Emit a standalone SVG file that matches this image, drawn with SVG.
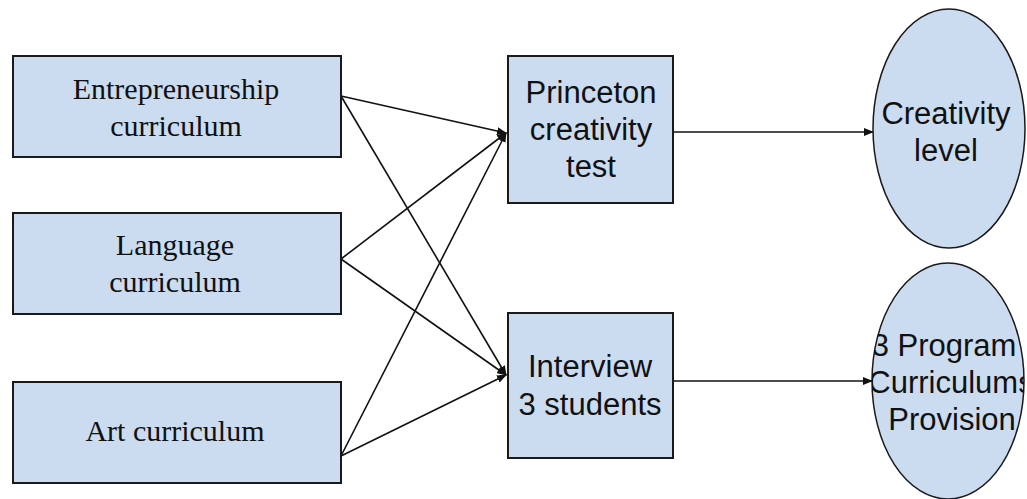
<svg xmlns="http://www.w3.org/2000/svg" width="1027" height="499" viewBox="0 0 1027 499">
<style>
.box{fill:#cbdcf1;stroke:#1a1a1a;stroke-width:2}
.ell{fill:#cbdcf1;stroke:#1a1a1a;stroke-width:1.5}
.serif{font-family:"Liberation Serif","Times New Roman",serif;font-size:30px;fill:#111;text-anchor:middle}
.sans{font-family:"Liberation Sans",Arial,sans-serif;font-size:31px;fill:#111;text-anchor:middle}
.edge{stroke:#111;stroke-width:1.6;fill:none;marker-end:url(#arr)}
</style>
<defs>
<marker id="arr" markerUnits="userSpaceOnUse" markerWidth="10" markerHeight="8" refX="9" refY="4" orient="auto">
<path d="M0,0 L10,4 L0,8 Z" fill="#111"/>
</marker>
<clipPath id="clipE2"><ellipse cx="948" cy="381" rx="76" ry="118"/></clipPath>
</defs>
<rect width="1027" height="499" fill="#fff"/>
<g id="connectors">
<line class="edge" x1="341" y1="96" x2="506" y2="133"/>
<line class="edge" x1="341" y1="96" x2="506" y2="375"/>
<line class="edge" x1="341" y1="259" x2="506" y2="133"/>
<line class="edge" x1="341" y1="259" x2="506" y2="375"/>
<line class="edge" x1="341" y1="456" x2="506" y2="133"/>
<line class="edge" x1="341" y1="456" x2="506" y2="375"/>
<line class="edge" x1="673" y1="132" x2="873" y2="132"/>
<line class="edge" x1="673" y1="381" x2="872" y2="381"/>
</g>
<g id="entrepreneurship">
<rect class="box" x="13" y="56" width="328" height="101"/>
<text class="serif" x="176" y="99">Entrepreneurship</text>
<text class="serif" x="176" y="136">curriculum</text>
</g>
<g id="language">
<rect class="box" x="13" y="213" width="328" height="101"/>
<text class="serif" x="175" y="255">Language</text>
<text class="serif" x="175" y="292">curriculum</text>
</g>
<g id="art">
<rect class="box" x="13" y="382" width="328" height="101"/>
<text class="serif" x="175" y="441">Art curriculum</text>
</g>
<g id="princeton">
<rect class="box" x="508" y="56" width="165" height="147"/>
<text class="sans" x="591" y="103">Princeton</text>
<text class="sans" x="591" y="140">creativity</text>
<text class="sans" x="591" y="177">test</text>
</g>
<g id="interview">
<rect class="box" x="508" y="313" width="165" height="145"/>
<text class="sans" x="590" y="377">Interview</text>
<text class="sans" x="590" y="415">3 students</text>
</g>
<g id="creativity-level">
<ellipse class="ell" cx="949" cy="128.5" rx="76" ry="119.5"/>
<text class="sans" x="946" y="124">Creativity</text>
<text class="sans" x="946" y="161">level</text>
</g>
<g id="provision">
<ellipse class="ell" cx="948" cy="381" rx="76" ry="118"/>
<g clip-path="url(#clipE2)">
<text class="sans" x="944" y="356">3 Program</text>
<text class="sans" x="951" y="393">Curriculums</text>
<text class="sans" x="952" y="430">Provision</text>
</g>
</g>
</svg>
